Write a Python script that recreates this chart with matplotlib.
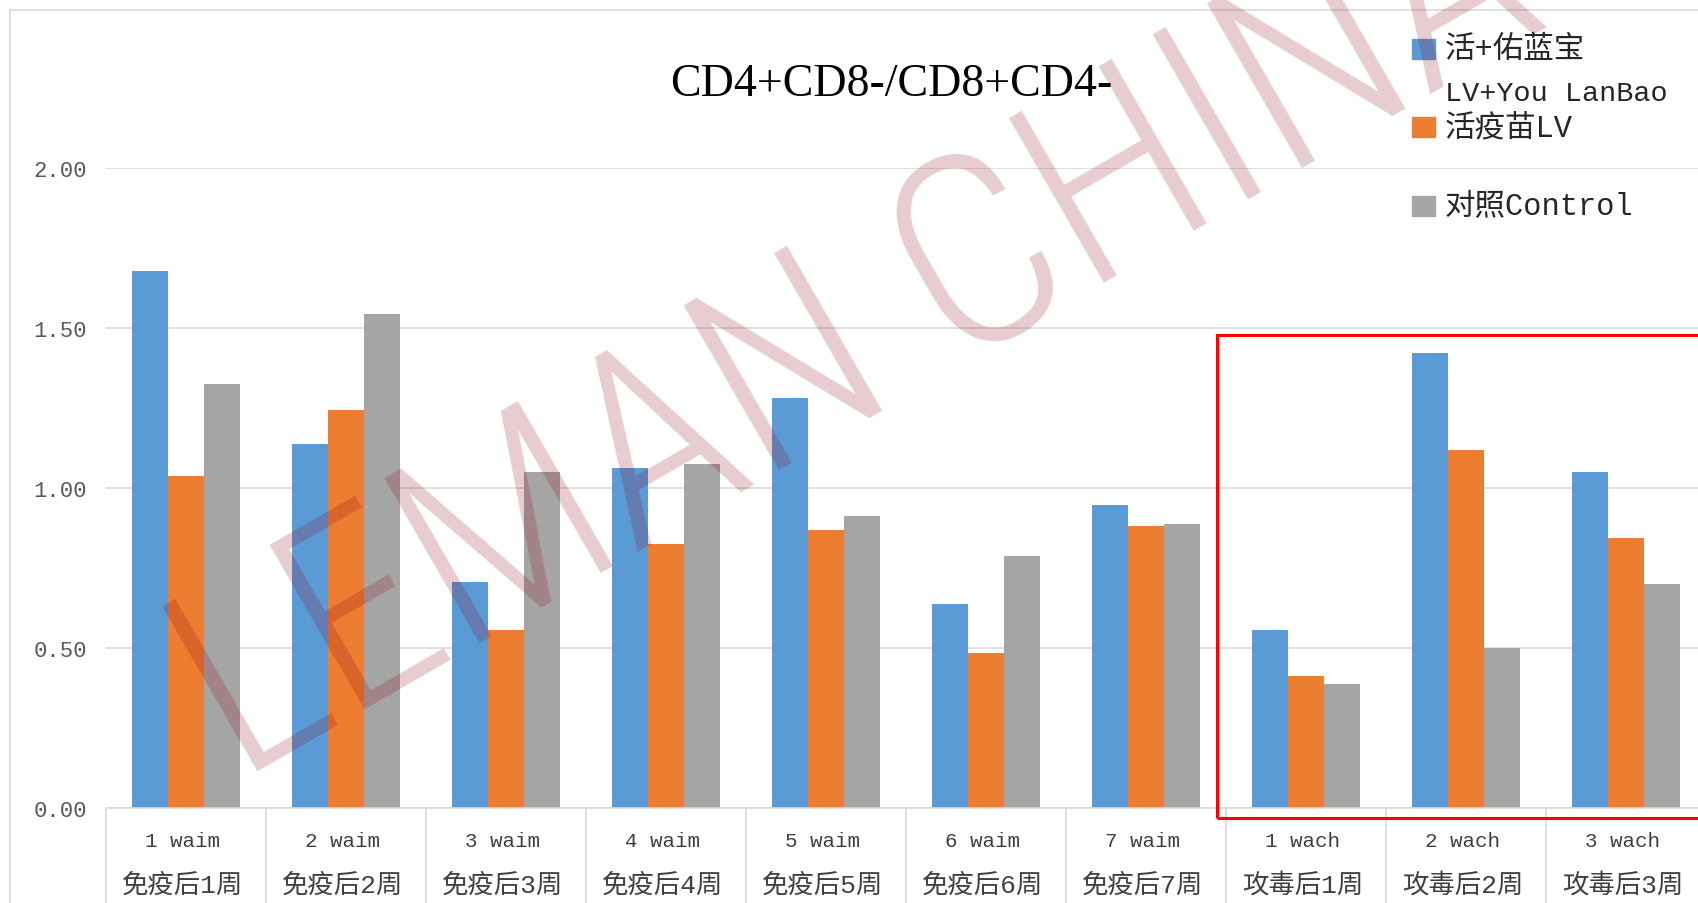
import matplotlib
matplotlib.use('Agg')
import matplotlib.pyplot as plt
from matplotlib.patches import Rectangle
from matplotlib.ticker import FixedLocator, FormatStrFormatter

# group labels (two rows under each group)
week_en = ['1 waim', '2 waim', '3 waim', '4 waim', '5 waim', '6 waim', '7 waim',
           '1 wach', '2 wach', '3 wach']
week_cn = ['免疫后1周', '免疫后2周', '免疫后3周', '免疫后4周', '免疫后5周',
           '免疫后6周', '免疫后7周', '攻毒后1周', '攻毒后2周', '攻毒后3周']

series_names = ['活+佑蓝宝\nLV+You LanBao', '活疫苗LV', '对照Control']
lv_youlanbao = [1.677, 1.138, 0.706, 1.061, 1.280, 0.639, 0.946, 0.557, 1.421, 1.051]
lv_vaccine = [1.039, 1.245, 0.557, 0.824, 0.868, 0.483, 0.882, 0.413, 1.120, 0.845]
control = [1.325, 1.544, 1.051, 1.074, 0.912, 0.787, 0.888, 0.388, 0.500, 0.701]

yticks = [0.0, 0.5, 1.0, 1.5, 2.0]
title = 'CD4+CD8-/CD8+CD4-'
watermark = 'LEMAN CHINA'

colors = ['#5B9BD5', '#ED7D31', '#A5A5A5']
grid_c = '#D9D9D9'
W, H = 1698, 904
mono_cjk = ['Liberation Mono', 'Noto Sans CJK SC']

fig = plt.figure(figsize=(W / 100, H / 100), dpi=100)
# plot area runs a little past the right edge of the canvas
ax = fig.add_axes([106 / W, 1 - 809 / H, 1600 / W, 640 / H])

n = len(week_en)
x = list(range(n))
bw = 0.223
for k, (vals, c) in enumerate(zip([lv_youlanbao, lv_vaccine, control], colors)):
    ax.bar([i + (k - 1) * bw for i in x], vals, width=bw, color=c, zorder=2)

ax.set_xlim(-0.5, n - 0.5)
ax.set_ylim(0, 2.0)
ax.set_yticks(yticks)
ax.yaxis.set_major_formatter(FormatStrFormatter('%.2f'))
ax.grid(axis='y', color=grid_c, linewidth=1.2, zorder=0)
ax.set_axisbelow(True)
for s in ['top', 'right', 'left']:
    ax.spines[s].set_visible(False)
ax.spines['bottom'].set_color(grid_c)
ax.spines['bottom'].set_linewidth(1.2)
ax.tick_params(axis='y', length=0, pad=13.5, labelsize=16, labelcolor='#595959')
for lab in ax.get_yticklabels():
    lab.set_family('Liberation Mono')

# category separators hanging below the axis
ax.set_xticks(x)
ax.set_xticklabels([])
ax.tick_params(axis='x', which='major', length=0)
ax.xaxis.set_minor_locator(FixedLocator([i - 0.5 for i in range(n + 1)]))
ax.tick_params(axis='x', which='minor', length=70, width=1.2, color=grid_c, direction='out')

xt = ax.get_xaxis_transform()
for i in x:
    ax.text(i - 0.02, -33 / 640, week_en[i], transform=xt, ha='center', va='center',
            fontsize=15, family='Liberation Mono', color='#404040', clip_on=False)
    ax.text(i - 0.02, -76 / 640, week_cn[i], transform=xt, ha='center', va='center',
            fontsize=19, family=mono_cjk, color='#404040', clip_on=False)

# highlight box around the post-challenge weeks
ax.add_patch(Rectangle((6.444, -0.031), 4.0, 1.509, fill=False, edgecolor='#FF0000',
                       linewidth=2.2, clip_on=False, zorder=5))

fig.text(891 / W, 1 - 85 / H, title, ha='center', va='center', fontsize=33,
         family='Liberation Serif', color='black')

# legend: one swatch per series, first label wraps onto a second line
leg_y = [50, 128, 207]
for name, c, yc in zip(series_names, colors, leg_y):
    fig.add_artist(Rectangle((1412 / W, 1 - (yc + 10) / H), 23 / W, 20 / H,
                             transform=fig.transFigure, color=c))
    for j, line in enumerate(name.split('\n')):
        fs = 22 if j == 0 else 20.5
        fig.text(1445 / W, 1 - (yc + 44 * j) / H, line, ha='left', va='center',
                 fontsize=fs, family=mono_cjk, color='#262626')

# chart area border
fig.add_artist(Rectangle((10 / W, -0.1), 1.2, 1.1 - 11 / H, transform=fig.transFigure,
                         fill=False, edgecolor=grid_c, linewidth=1.2))

fig.text(238 / W, 1 - 782 / H, watermark, rotation=30, rotation_mode='anchor',
         ha='left', va='baseline', fontsize=192,
         family=['Roboto Condensed', 'Archivo Narrow', 'PT Sans Narrow', 'Open Sans'],
         fontweight=300, color='#8C0014', alpha=0.2, zorder=10)

fig.savefig('out.png', dpi=100)
